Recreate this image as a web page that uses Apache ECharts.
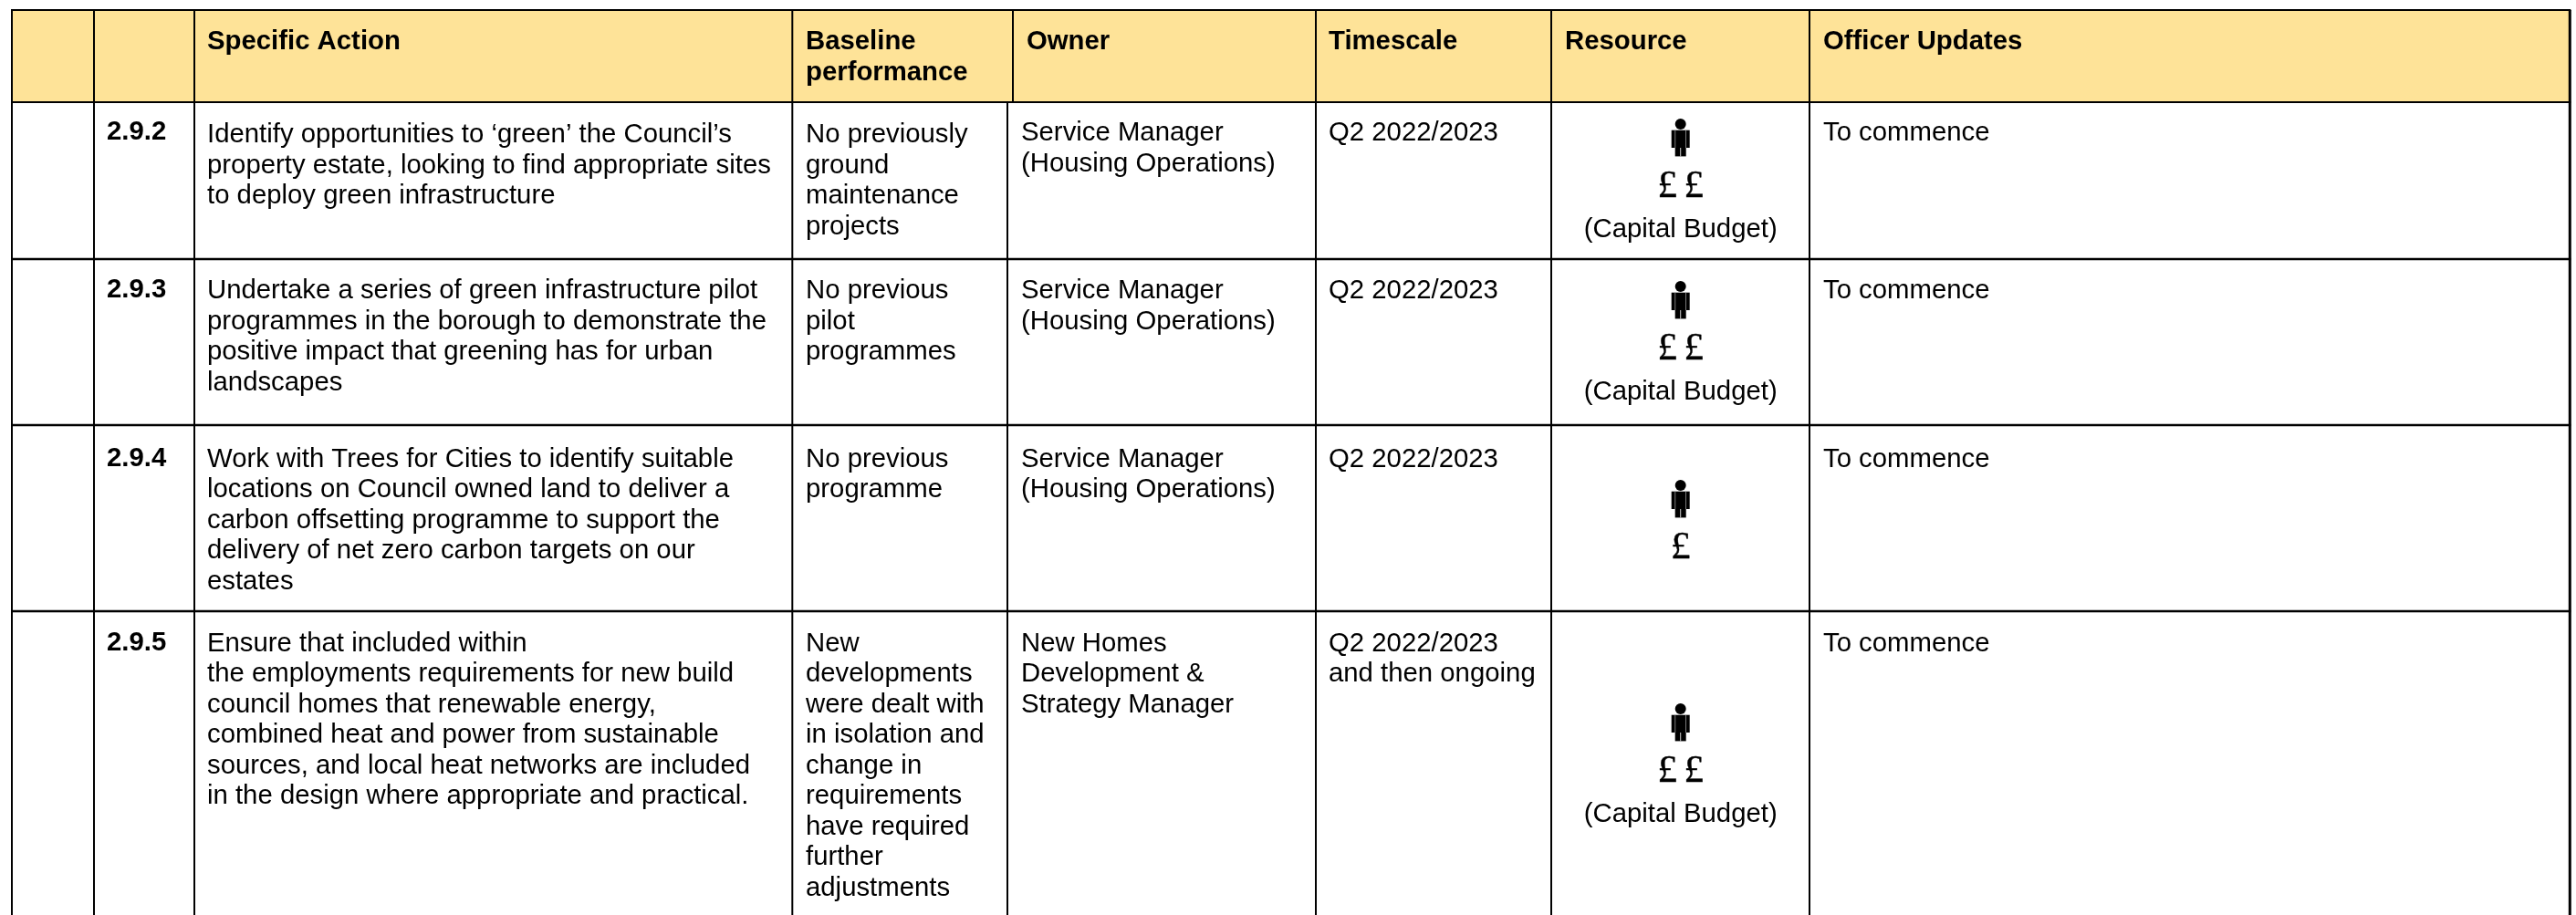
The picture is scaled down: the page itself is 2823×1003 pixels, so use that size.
<!DOCTYPE html>
<html><head><meta charset="utf-8">
<style>html,body{margin:0;padding:0;background:#fff}#c{width:2823px;height:1003px}</style>
<script src="https://cdn.jsdelivr.net/npm/echarts@6/dist/echarts.min.js"></script>
</head><body><div id="c"></div>
<script>
// ---- table content ----
const headers = ['', '', 'Specific Action', 'Baseline\nperformance', 'Owner', 'Timescale', 'Resource', 'Officer Updates'];
const actionIds = ['2.9.2', '2.9.3', '2.9.4', '2.9.5'];
const actions = [
  'Identify opportunities to ‘green’ the Council’s\nproperty estate, looking to find appropriate sites\nto deploy green infrastructure',
  'Undertake a series of green infrastructure pilot\nprogrammes in the borough to demonstrate the\npositive impact that greening has for urban\nlandscapes',
  'Work with Trees for Cities to identify suitable\nlocations on Council owned land to deliver a\ncarbon offsetting programme to support the\ndelivery of net zero carbon targets on our\nestates',
  'Ensure that included within\nthe employments requirements for new build\ncouncil homes that renewable energy,\ncombined heat and power from sustainable\nsources, and local heat networks are included\nin the design where appropriate and practical.'
];
const baselines = [
  'No previously\nground\nmaintenance\nprojects',
  'No previous\npilot\nprogrammes',
  'No previous\nprogramme',
  'New\ndevelopments\nwere dealt with\nin isolation and\nchange in\nrequirements\nhave required\nfurther\nadjustments'
];
const owners = [
  'Service Manager\n(Housing Operations)',
  'Service Manager\n(Housing Operations)',
  'Service Manager\n(Housing Operations)',
  'New Homes\nDevelopment &\nStrategy Manager'
];
const timescales = ['Q2 2022/2023', 'Q2 2022/2023', 'Q2 2022/2023', 'Q2 2022/2023\nand then ongoing'];
const poundCounts = [2, 2, 1, 2];
const resourceNotes = ['(Capital Budget)', '(Capital Budget)', '', '(Capital Budget)'];
const updates = ['To commence', 'To commence', 'To commence', 'To commence'];

// ---- layout (page pixels) ----
const FONT = '"Liberation Sans", Arial, sans-serif';
const SIZE = 29.33, PITCH = 33.5;
const L = 13, R = 2816.3, TOP = 11, HEAD = 112, BOTTOM = 1003;
const rowBottoms = [284, 466, 670];
const colLines = [13, 103, 213, 868.3, 1442, 1700, 1983];
const OWNER_HEAD_X = 1110, OWNER_BODY_X = 1104;
const headX = [null, null, 227, 883, 1125, 1456, 1715, 1998];
const bodyX = { id: 117, action: 227, base: 883, owner: 1119, time: 1456, update: 1998 };
const firstLineY = [147, 319, 503.5, 705.5];
const leadCols = [1, 0, 0, 0];
const headLineY = 46;
const RES_CX = 1841.7;
const personY = [136, 314, 532, 777];
const poundY = [205, 383, 601, 846];
const noteY = [252, 430, 0, 893];

function line(x1, y1, x2, y2, w) {
  return { type: 'line', shape: { x1, y1, x2, y2 }, style: { stroke: '#000', lineWidth: w } };
}
function block(text, x, y, opts) {
  opts = opts || {};
  return String(text).split('\n').map((t, i) => ({
    type: 'text',
    style: {
      text: t, x, y: y + i * (opts.pitch || PITCH),
      font: (opts.bold ? 'bold ' : '') + (opts.size || SIZE) + 'px ' + (opts.family || FONT),
      fill: '#000', textAlign: opts.align || 'left', textVerticalAlign: 'middle',
      stroke: opts.stroke ? '#000' : null, lineWidth: opts.stroke || 0
    }
  }));
}
function person(cx, headY) {
  const top = headY + 6.7;
  const rect = (x, y, w, h, fill) => ({ type: 'rect', shape: { x, y, width: w, height: h }, style: { fill } });
  return [
    { type: 'circle', shape: { cx, cy: headY, r: 6 }, style: { fill: '#000' } },
    rect(cx - 10, top, 20, 19.3, '#000'),
    rect(cx - 6, top + 19.3, 12, 9.4, '#000'),
    rect(cx - 6.3, top, 0.8, 19.3, '#999'),
    rect(cx + 5.5, top, 0.8, 19.3, '#999'),
    rect(cx - 0.5, top + 19.3, 1, 9.4, '#ccc')
  ];
}
function renderFrame() {
  const kids = [{ type: 'rect', shape: { x: L, y: TOP, width: R - L, height: HEAD - TOP }, style: { fill: '#FEE398' } }];
  colLines.forEach(x => kids.push(line(x, TOP, x, BOTTOM, 2)));
  kids.push(line(R, TOP, R, BOTTOM, 3));
  kids.push(line(OWNER_HEAD_X, TOP, OWNER_HEAD_X, HEAD, 2), line(OWNER_BODY_X, HEAD, OWNER_BODY_X, BOTTOM, 2));
  kids.push(line(L - 1, TOP, R + 1, TOP, 2), line(L - 1, HEAD, R + 1, HEAD, 2));
  rowBottoms.forEach(y => kids.push(line(L - 1, y, R + 1, y, 2.5)));
  headers.forEach((h, i) => { if (h) kids.push(...block(h, headX[i], headLineY, { bold: true })); });
  return { type: 'group', children: kids };
}
function renderRow(i) {
  const y = firstLineY[i];
  const poundStyle = { size: 43, family: '"Liberation Serif", serif', align: 'center', stroke: 0.4 };
  const kids = [
    ...block(actionIds[i], bodyX.id, y - 1 - leadCols[i], { bold: true }),
    ...block(actions[i], bodyX.action, y + leadCols[i], {}),
    ...block(baselines[i], bodyX.base, y + leadCols[i], {}),
    ...block(owners[i], bodyX.owner, y - leadCols[i], {}),
    ...block(timescales[i], bodyX.time, y - leadCols[i], {}),
    ...block(updates[i], bodyX.update, y - leadCols[i], {}),
    ...person(RES_CX, personY[i]),
    ...block('£', RES_CX - (poundCounts[i] - 1) * 14.5, poundY[i], poundStyle)
  ];
  if (poundCounts[i] > 1) kids.push(...block('£', RES_CX + 14.5, poundY[i], poundStyle));
  if (resourceNotes[i]) kids.push(...block(resourceNotes[i], RES_CX, noteY[i], { align: 'center' }));
  return { type: 'group', children: kids };
}
const chart = echarts.init(document.getElementById('c'), null, { renderer: 'canvas' });
chart.setOption({
  animation: false,
  backgroundColor: '#fff',
  series: [
    { type: 'custom', coordinateSystem: 'none', data: [0], silent: true, z: 1, renderItem: () => renderFrame() },
    { type: 'custom', coordinateSystem: 'none', data: actionIds.map((_, i) => i), silent: true, z: 2,
      renderItem: (p) => renderRow(p.dataIndex) }
  ]
});
</script></body></html>
